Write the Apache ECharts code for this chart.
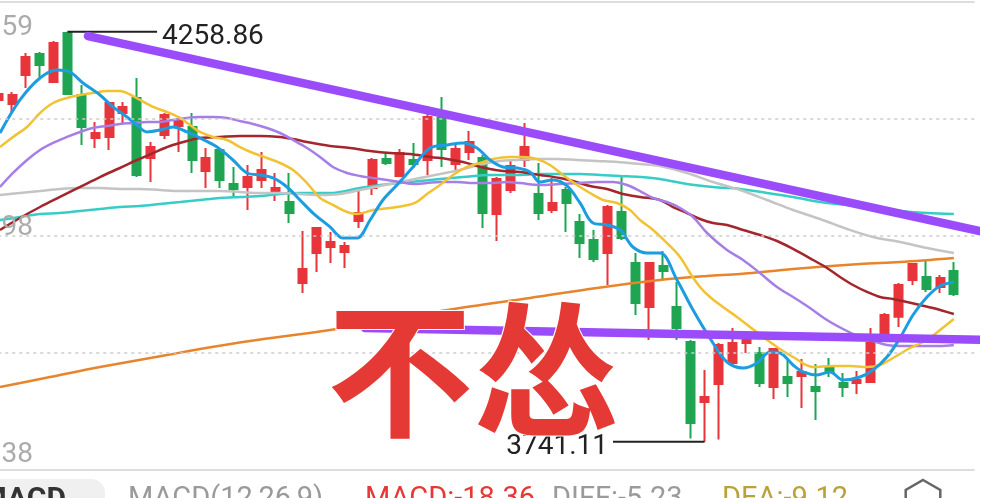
<!DOCTYPE html>
<html><head><meta charset="utf-8">
<script src="https://cdn.jsdelivr.net/npm/echarts@6/dist/echarts.min.js"></script>
<style>html,body{margin:0;padding:0;background:#fff;}#c{width:988px;height:498px;}</style>
</head><body><div id="c"></div>
<script>
// ---- data ----
// candles: [open, close, low, high]
const candles = [
 [4172.8,4180.4,4167.7,4185.4],[4167.7,4179.1,4156.4,4182.9],[4204.4,4227.1,4188.0,4232.2],[4230.9,4217.0,4201.9,4233.4],
 [4195.5,4244.8,4194.3,4247.3],[4257.4,4180.4,4179.1,4258.86],[4179.1,4138.7,4115.9,4191.7],[4124.8,4131.1,4112.2,4145.0],
 [4126.1,4169.0,4109.6,4170.3],[4156.4,4164.0,4143.7,4170.3],[4175.3,4078.0,4075.5,4200.6],[4099.5,4113.4,4069.2,4119.7],
 [4128.6,4153.8,4123.5,4156.4],[4140.0,4146.3,4107.1,4152.6],[4138.7,4097.0,4080.6,4156.4],[4083.1,4099.5,4061.6,4112.2],
 [4109.6,4071.7,4061.6,4112.2],[4066.7,4060.4,4049.0,4088.1],[4062.9,4075.5,4033.8,4090.7],[4071.7,4084.4,4061.6,4107.1],
 [4057.8,4061.6,4045.2,4080.6],[4043.9,4030.0,4017.4,4080.6],[3941.6,3959.3,3929.0,4007.3],[3979.5,4011.1,3955.5,4012.4],
 [3987.1,3993.4,3966.9,4006.0],[3980.8,3988.4,3960.6,3993.4],[4019.9,4030.0,4011.1,4061.6],[4061.6,4097.0,4052.8,4099.5],
 [4098.3,4093.2,4090.7,4105.8],[4076.8,4105.8,4075.5,4110.9],[4097.0,4091.9,4086.9,4118.5],[4097.0,4151.3,4078.0,4165.2],
 [4150.1,4110.9,4088.1,4176.6],[4091.9,4110.9,4081.8,4118.5],[4107.1,4119.7,4097.0,4133.6],[4099.5,4030.0,4011.1,4103.3],
 [4028.8,4073.0,3994.7,4075.5],[4059.1,4089.4,4055.3,4097.0],[4097.0,4113.4,4088.1,4143.7],[4054.1,4030.0,4021.2,4093.2],
 [4033.8,4042.7,4030.0,4074.3],[4059.1,4042.7,4006.0,4062.9],[4018.7,3992.1,3973.2,4028.8],[3995.9,3971.9,3968.1,4008.6],
 [3979.5,4037.6,3939.1,4040.2],[4031.3,3998.5,3995.9,4075.5],[3966.9,3916.4,3901.2,3979.5],[3911.3,3966.9,3869.6,3968.1],
 [3963.1,3956.8,3945.4,3982.0],[3911.3,3884.8,3869.6,3942.9],[3867.1,3764.8,3745.2,3869.6],[3791.3,3797.6,3741.11,3831.7],
 [3814.0,3863.3,3743.9,3865.8],[3840.6,3865.8,3840.6,3884.8],[3865.8,3869.6,3853.2,3872.1],[3853.2,3815.3,3810.2,3860.8],
 [3810.2,3858.2,3795.1,3859.5],[3822.9,3815.3,3797.6,3845.6],[3824.1,3829.2,3783.7,3845.6],[3810.2,3805.2,3768.6,3839.3],
 [3834.2,3829.2,3822.9,3846.9],[3815.3,3810.2,3797.6,3827.9],[3815.3,3819.1,3801.4,3830.5],[3816.6,3865.8,3815.3,3884.8],
 [3873.4,3901.2,3873.4,3903.7],[3899.0,3939.1,3886.0,3941.6],[3945.4,3965.6,3939.1,3966.9],[3949.2,3934.0,3930.2,3970.6],
 [3936.6,3947.9,3929.0,3951.7],[3956.8,3927.7,3925.2,3968.1]
];
const categories = candles.map((_, i) => String(i + 1)).concat(['']);

// moving-average lines: [candle position, value]
const maBlue = [[0.13,4131.1],[1.57,4172.8],[3.02,4200.6],[4.25,4210.7],[5.18,4208.2],[6.12,4194.3],[7.35,4179.1],[8.29,4164.0],[9.30,4151.3],[10.02,4141.2],[10.74,4132.4],[11.68,4134.9],[12.62,4138.7],[13.63,4132.4],[14.57,4124.8],[15.80,4113.4],[16.95,4097.0],[17.96,4080.6],[18.90,4078.1],[19.84,4074.3],[20.85,4062.9],[21.79,4046.5],[22.73,4030.0],[23.96,4012.4],[24.90,3998.5],[25.91,3998.5],[26.85,4021.2],[27.78,4046.5],[28.79,4065.4],[29.95,4088.2],[31.18,4112.2],[32.40,4116.0],[33.56,4118.5],[34.57,4112.2],[35.51,4097.0],[36.45,4088.2],[37.46,4086.9],[38.40,4081.8],[39.12,4069.2],[40.06,4071.7],[41.07,4064.2],[42.01,4042.7],[42.95,4017.4],[43.96,4014.9],[44.90,4008.6],[45.83,3987.1],[46.85,3979.5],[47.78,3979.5],[49.01,3945.4],[50.17,3907.5],[51.61,3865.8],[52.62,3841.8],[53.78,3834.2],[54.79,3840.6],[55.73,3854.5],[56.45,3853.2],[57.39,3838.0],[58.11,3829.2],[59.12,3825.4],[60.06,3829.2],[61.00,3819.1],[62.22,3822.9],[63.16,3831.7],[64.17,3848.1],[65.11,3872.1],[66.05,3901.2],[67.06,3923.9],[68.00,3937.8],[69.00,3942.9]];
const maYellow = [[0.13,4113.4],[1.07,4126.1],[2.08,4138.7],[3.02,4156.4],[3.96,4169.0],[4.97,4175.3],[5.91,4179.1],[6.84,4181.6],[7.86,4184.2],[8.79,4184.2],[9.30,4181.6],[10.24,4172.8],[11.18,4164.0],[12.19,4157.6],[13.13,4150.1],[13.85,4141.2],[14.57,4132.4],[15.51,4126.1],[16.52,4122.3],[17.46,4113.4],[18.40,4105.8],[19.41,4099.5],[20.35,4093.2],[21.29,4084.4],[22.30,4067.9],[23.24,4049.0],[24.17,4040.2],[25.18,4031.3],[25.91,4028.8],[27.06,4033.8],[28.79,4037.6],[30.09,4042.7],[30.96,4054.1],[31.90,4065.4],[32.84,4078.1],[33.85,4088.2],[34.79,4093.2],[35.73,4098.3],[36.95,4100.8],[37.89,4100.8],[38.90,4098.3],[39.84,4090.7],[40.78,4078.1],[41.79,4065.4],[42.73,4055.3],[43.67,4046.5],[44.68,4042.7],[45.62,4033.8],[46.34,4021.2],[47.28,4008.6],[48.29,3992.1],[49.23,3974.5],[49.95,3954.2],[50.67,3936.6],[51.39,3923.9],[52.33,3911.3],[53.34,3898.7],[54.28,3886.0],[55.22,3873.4],[56.23,3860.8],[57.39,3848.1],[58.83,3835.5],[60.27,3836.8],[61.50,3836.8],[62.73,3835.5],[63.67,3838.0],[64.61,3846.9],[65.84,3859.5],[67.06,3869.6],[68.00,3882.2],[69.00,3896.1]];
const maPurple = [[0.13,4062.9],[1.07,4080.6],[2.08,4097.0],[3.02,4109.6],[3.96,4118.5],[4.97,4126.1],[5.91,4132.4],[6.84,4137.4],[7.86,4140.0],[8.79,4142.5],[9.73,4143.7],[10.74,4145.0],[11.68,4145.0],[12.62,4147.5],[13.63,4150.1],[14.57,4151.3],[15.51,4151.3],[16.52,4150.1],[17.46,4146.3],[18.40,4142.5],[19.41,4137.4],[20.35,4131.1],[21.29,4122.3],[22.30,4112.2],[23.24,4100.8],[24.17,4088.2],[25.18,4080.6],[26.12,4076.8],[27.06,4074.3],[28.07,4071.7],[29.01,4069.2],[29.95,4066.7],[30.96,4067.9],[31.90,4069.2],[33.13,4069.2],[34.28,4067.9],[35.51,4067.9],[36.74,4069.2],[37.68,4067.9],[39.12,4065.4],[40.56,4066.7],[42.01,4067.9],[43.23,4069.2],[44.39,4069.2],[45.40,4065.4],[46.34,4057.8],[47.28,4049.0],[48.29,4043.9],[49.23,4036.4],[50.17,4025.0],[51.18,4004.8],[52.62,3983.3],[53.78,3970.7],[55.00,3954.2],[56.23,3936.6],[57.39,3923.9],[58.61,3910.0],[59.84,3894.9],[61.00,3883.5],[62.22,3873.4],[63.16,3868.3],[64.17,3863.3],[65.11,3862.0],[66.05,3862.0],[67.06,3862.0],[68.00,3862.0],[69.00,3863.3]];
const maDarkRed = [[0.13,4008.6],[1.57,4023.7],[3.02,4037.6],[4.46,4050.3],[5.91,4062.9],[7.35,4075.5],[8.79,4086.9],[10.02,4097.0],[11.18,4105.8],[12.40,4114.7],[13.63,4121.0],[14.57,4124.8],[16.01,4126.1],[17.46,4127.3],[18.90,4127.3],[20.35,4126.1],[21.29,4123.5],[22.30,4119.7],[23.96,4114.7],[25.40,4112.2],[26.85,4108.4],[28.29,4105.8],[29.73,4104.6],[31.18,4100.8],[32.40,4098.3],[33.56,4094.5],[34.57,4089.4],[35.51,4085.6],[36.45,4083.1],[37.68,4081.8],[39.12,4078.1],[40.56,4074.3],[41.50,4070.5],[42.73,4064.2],[43.96,4060.4],[45.11,4054.1],[46.34,4050.3],[47.78,4046.5],[48.72,4037.6],[49.73,4030.0],[50.67,4022.5],[51.61,4017.4],[52.62,4014.9],[53.78,4008.6],[55.00,4002.3],[56.23,3994.7],[57.39,3984.6],[58.83,3970.7],[59.84,3960.6],[60.78,3949.2],[61.72,3939.1],[62.73,3930.3],[63.67,3923.9],[64.61,3921.4],[65.62,3917.6],[66.56,3913.8],[67.49,3910.0],[69.00,3902.4]];
const maGray = [[0.13,4052.8],[1.57,4055.3],[3.02,4057.8],[4.46,4060.4],[5.91,4061.6],[7.35,4061.6],[8.79,4060.4],[10.24,4060.4],[11.68,4059.1],[13.13,4057.8],[14.57,4057.8],[16.01,4057.8],[17.46,4056.6],[18.90,4055.3],[20.35,4055.3],[21.79,4054.1],[23.24,4052.8],[24.68,4054.1],[26.12,4059.1],[27.57,4064.2],[29.01,4069.2],[30.46,4074.3],[31.90,4079.3],[33.34,4084.4],[35.00,4092.0],[36.23,4095.7],[37.46,4097.0],[38.90,4098.3],[40.35,4098.3],[41.79,4097.0],[43.23,4095.7],[44.68,4094.5],[46.34,4091.9],[47.78,4089.4],[49.73,4080.6],[51.61,4069.2],[53.56,4059.1],[55.51,4046.5],[57.39,4033.8],[59.34,4022.5],[61.29,4009.8],[63.16,3999.7],[65.11,3993.4],[67.06,3985.8],[69.00,3979.5]];
const maCyan = [[0.13,4021.2],[1.57,4025.0],[3.02,4028.8],[4.46,4030.0],[5.91,4032.6],[7.35,4035.1],[8.79,4037.6],[10.24,4038.9],[11.68,4041.4],[13.13,4043.9],[14.57,4046.5],[16.01,4049.0],[17.46,4050.3],[18.90,4051.5],[20.35,4054.1],[21.79,4055.3],[23.96,4055.3],[26.12,4061.6],[27.57,4065.4],[29.01,4067.9],[30.46,4070.5],[31.90,4073.0],[33.56,4075.5],[35.51,4078.1],[37.68,4078.1],[39.12,4079.3],[40.56,4079.3],[42.01,4079.3],[43.45,4078.1],[44.90,4076.8],[46.34,4075.5],[47.78,4073.0],[49.73,4066.7],[51.61,4062.9],[53.56,4060.4],[55.51,4055.3],[57.39,4050.3],[59.34,4043.9],[61.29,4040.2],[63.16,4036.4],[65.11,4032.6],[67.06,4030.0],[69.00,4028.8]];
const maOrange = [[0.13,3810.2],[3.74,3822.9],[7.35,3835.5],[12.19,3850.6],[14.57,3858.2],[18.18,3868.3],[23.96,3882.2],[29.01,3897.4],[33.34,3910.0],[38.40,3922.7],[43.23,3935.3],[47.78,3945.4],[51.18,3950.5],[53.56,3953.0],[57.39,3959.3],[62.22,3965.6],[65.11,3968.1],[69.00,3973.2]];

// hand-drawn trend lines
const trendUpper = [[6.48,4253.6],[71.47,4004.8]];
const trendLower = [[26.48,3884.8],[71.47,3869.6]];

// price annotations
const highValue = 4258.86, highLine = [5, 11.47];
const lowValue = 3741.11, lowLine = [44.39, 51];

// y axis
const yMin = 3705.38, yMax = 4296.59;
const yLabelValues = [4296.59, 4000.98, 3705.38];
const dashedGrid = [4148.79, 4000.98, 3853.18];
const solidGrid = [4296.59, 3705.38];

const bottomTexts = [
  {text: 'MACD(12,26,9)', color: '#9a9a9a', x: 128},
  {text: 'MACD:-18.36', color: '#e53935', x: 365},
  {text: 'DIFF:-5.23', color: '#9a9a9a', x: 552},
  {text: 'DEA:-9.12', color: '#b9a23a', x: 722}
];

const chart = echarts.init(document.getElementById('c'), null, {renderer: 'canvas'});

function maSeries(data, color, width) {
  return {type: 'line', xAxisIndex: 1, yAxisIndex: 0, data: data, smooth: 0.35, showSymbol: false, symbol: 'none',
    lineStyle: {color: color, width: width}, z: 3, silent: true};
}

const option = {
  animation: false,
  backgroundColor: '#ffffff',
  grid: {left: -8.725, top: 2, width: 983.35, height: 468, show: false, outerBoundsMode: 'none', containLabel: false},
  xAxis: [
    {type: 'category', data: categories, show: false, boundaryGap: true},
    {type: 'value', min: -0.5, max: 70.5, show: false}
  ],
  yAxis: {type: 'value', min: yMin, max: yMax, show: false, splitLine: {show: false}},
  series: [
    {
      type: 'candlestick', xAxisIndex: 0, yAxisIndex: 0, data: candles, barWidth: 8.5, z: 2,
      itemStyle: {color: '#e8343b', color0: '#1fa552', borderColor: '#e8343b', borderColor0: '#1fa552', borderWidth: 2},
      markLine: {
        silent: true, symbol: ['none', 'none'], label: {show: false}, animation: false,
        data: dashedGrid.map(v => ({yAxis: v, lineStyle: {type: [3, 4], color: '#cccccc', width: 1.5}}))
          .concat(solidGrid.map(v => ({yAxis: v, lineStyle: {type: 'solid', color: '#dddddd', width: 2}})))
      }
    },
    maSeries(maOrange, '#e8842c', 2.5),
    maSeries(maCyan, '#36cdc6', 2.5),
    maSeries(maGray, '#c4c4c4', 2.5),
    maSeries(maDarkRed, '#a3262c', 2.5),
    maSeries(maPurple, '#a67fe6', 2.5),
    maSeries(maYellow, '#f1c232', 2.5),
    maSeries(maBlue, '#1e9ce0', 3),
    {type: 'line', xAxisIndex: 1, data: [[highLine[0], highValue], [highLine[1], highValue]], symbol: 'none',
      lineStyle: {color: '#222', width: 2}, z: 4, silent: true, clip: false},
    {type: 'line', xAxisIndex: 1, data: [[lowLine[0], lowValue], [lowLine[1], lowValue]], symbol: 'none',
      lineStyle: {color: '#222', width: 2}, z: 4, silent: true, clip: false},
    {type: 'line', xAxisIndex: 1, data: trendUpper, symbol: 'none', clip: false,
      lineStyle: {color: '#9b4cfa', width: 8.5, cap: 'round'}, z: 6, silent: true},
    {type: 'line', xAxisIndex: 1, data: trendLower, symbol: 'none', clip: false,
      lineStyle: {color: '#9b4cfa', width: 8.5, cap: 'round'}, z: 6, silent: true}
  ]
};
chart.setOption(option);

const yOffsets = [26, -8, -15];
const g = [];
yLabelValues.forEach((v, i) => {
  const py = chart.convertToPixel({yAxisIndex: 0}, v);
  g.push({type: 'text', x: 33, y: py + yOffsets[i], z: 50,
    style: {text: v.toFixed(2), fill: '#ababab', fontSize: 28, fontFamily: 'Roboto', align: 'right', verticalAlign: 'middle'}});
});
const hp = chart.convertToPixel({xAxisIndex: 1, yAxisIndex: 0}, [highLine[1], highValue]);
g.push({type: 'text', x: hp[0] + 5, y: hp[1] + 5, z: 50,
  style: {text: highValue.toFixed(2), fill: '#222', fontSize: 28, fontFamily: 'Roboto', align: 'left', verticalAlign: 'middle'}});
const lp = chart.convertToPixel({xAxisIndex: 1, yAxisIndex: 0}, [lowLine[0], lowValue]);
g.push({type: 'text', x: lp[0] - 5, y: lp[1] + 5, z: 50,
  style: {text: lowValue.toFixed(2), fill: '#222', fontSize: 28, fontFamily: 'Roboto', align: 'right', verticalAlign: 'middle'}});
// big overlay caption
g.push({type: 'text', x: 473, y: 370, z: 100,
  style: {text: '不怂', fill: '#e53935', fontSize: 146, fontWeight: 'bold', fontFamily: 'Noto Sans CJK SC',
    align: 'center', verticalAlign: 'middle', stroke: '#ffffff', lineWidth: 2}});
// bottom indicator strip
g.push({type: 'rect', shape: {x: -20, y: 479, width: 125, height: 40, r: 14}, style: {fill: '#f0f0f0'}, z: 40});
g.push({type: 'text', x: 66, y: 500, z: 41,
  style: {text: 'MACD', fill: '#333', fontSize: 30, fontWeight: 'bold', fontFamily: 'Roboto', align: 'right', verticalAlign: 'middle'}});
bottomTexts.forEach(t => {
  g.push({type: 'text', x: t.x, y: 500, z: 41,
    style: {text: t.text, fill: t.color, fontSize: 29, fontFamily: 'Roboto', align: 'left', verticalAlign: 'middle'}});
});
g.push({type: 'polygon', z: 41, shape: {points: [[923,480],[940.3,490],[940.3,510],[923,520],[905.7,510],[905.7,490]]},
  style: {fill: 'none', stroke: '#666', lineWidth: 2.5}});
chart.setOption({graphic: g});
</script>
</body></html>
